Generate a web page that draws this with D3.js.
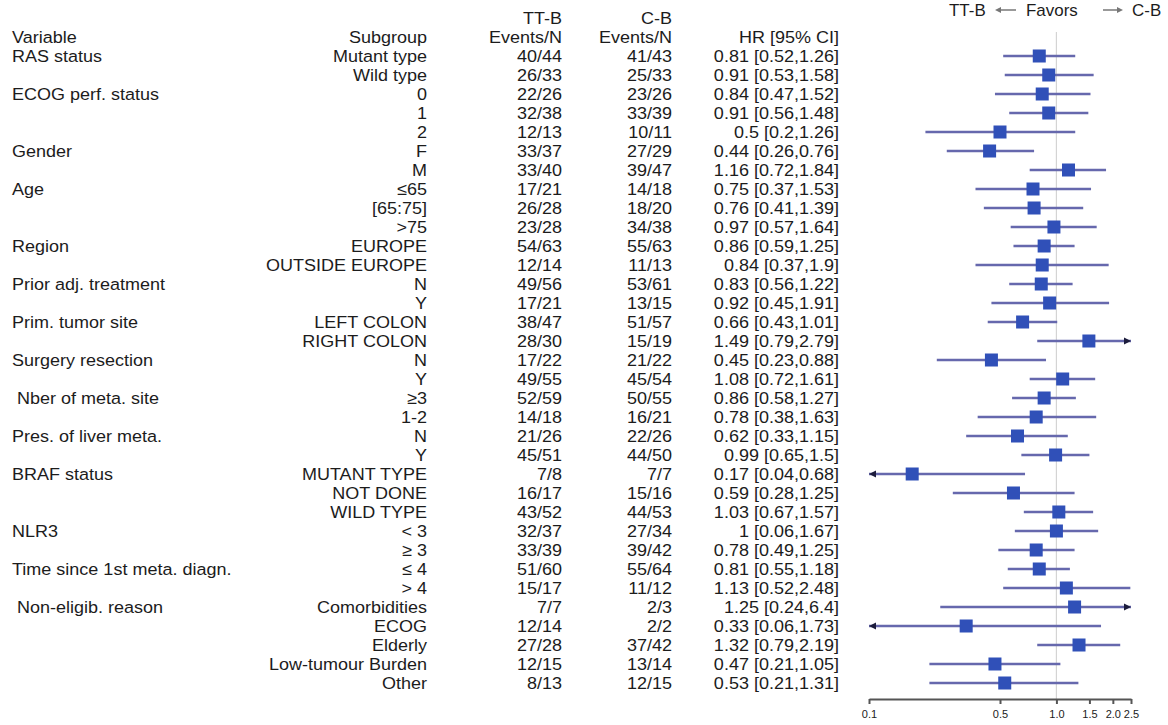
<!DOCTYPE html>
<html>
<head>
<meta charset="utf-8">
<script src="https://cdn.jsdelivr.net/npm/d3@7"></script>
<style>
  html, body { margin: 0; padding: 0; background: #fff; }
  svg { display: block; }
  text { font-family: "Liberation Sans", Arial, Helvetica, sans-serif; fill: #1c1c1c; white-space: pre; }
</style>
</head>
<body>
<svg id="chart" width="1168" height="725"></svg>
<script>
// ---- data ----
const variables = ["RAS status", "", "ECOG perf. status", "", "", "Gender", "", "Age", "", "",
  "Region", "", "Prior adj. treatment", "", "Prim. tumor site", "", "Surgery resection", "",
  " Nber of meta. site", "", "Pres. of liver meta.", "", "BRAF status", "", "", "NLR3", "",
  "Time since 1st meta. diagn.", "", " Non-eligib. reason", "", "", "", ""];
const subgroups = ["Mutant type", "Wild type", "0", "1", "2", "F", "M", "\u226465", "[65:75]", ">75",
  "EUROPE", "OUTSIDE EUROPE", "N", "Y", "LEFT COLON", "RIGHT COLON", "N", "Y",
  "\u22653", "1-2", "N", "Y", "MUTANT TYPE", "NOT DONE", "WILD TYPE", "< 3", "\u2265 3",
  "\u2264 4", "> 4", "Comorbidities", "ECOG", "Elderly", "Low-tumour Burden", "Other"];
const ttbEvents = ["40/44", "26/33", "22/26", "32/38", "12/13", "33/37", "33/40", "17/21", "26/28", "23/28",
  "54/63", "12/14", "49/56", "17/21", "38/47", "28/30", "17/22", "49/55", "52/59", "14/18",
  "21/26", "45/51", "7/8", "16/17", "43/52", "32/37", "33/39", "51/60", "15/17", "7/7",
  "12/14", "27/28", "12/15", "8/13"];
const cbEvents = ["41/43", "25/33", "23/26", "33/39", "10/11", "27/29", "39/47", "14/18", "18/20", "34/38",
  "55/63", "11/13", "53/61", "13/15", "51/57", "15/19", "21/22", "45/54", "50/55", "16/21",
  "22/26", "44/50", "7/7", "15/16", "44/53", "27/34", "39/42", "55/64", "11/12", "2/3",
  "2/2", "37/42", "13/14", "12/15"];
const hrLabels = ["0.81 [0.52,1.26]", "0.91 [0.53,1.58]", "0.84 [0.47,1.52]", "0.91 [0.56,1.48]", "0.5 [0.2,1.26]",
  "0.44 [0.26,0.76]", "1.16 [0.72,1.84]", "0.75 [0.37,1.53]", "0.76 [0.41,1.39]", "0.97 [0.57,1.64]",
  "0.86 [0.59,1.25]", "0.84 [0.37,1.9]", "0.83 [0.56,1.22]", "0.92 [0.45,1.91]", "0.66 [0.43,1.01]",
  "1.49 [0.79,2.79]", "0.45 [0.23,0.88]", "1.08 [0.72,1.61]", "0.86 [0.58,1.27]", "0.78 [0.38,1.63]",
  "0.62 [0.33,1.15]", "0.99 [0.65,1.5]", "0.17 [0.04,0.68]", "0.59 [0.28,1.25]", "1.03 [0.67,1.57]",
  "1 [0.06,1.67]", "0.78 [0.49,1.25]", "0.81 [0.55,1.18]", "1.13 [0.52,2.48]", "1.25 [0.24,6.4]",
  "0.33 [0.06,1.73]", "1.32 [0.79,2.19]", "0.47 [0.21,1.05]", "0.53 [0.21,1.31]"];
const hr = [0.81, 0.91, 0.84, 0.91, 0.5, 0.44, 1.16, 0.75, 0.76, 0.97, 0.86, 0.84, 0.83, 0.92, 0.66,
  1.49, 0.45, 1.08, 0.86, 0.78, 0.62, 0.99, 0.17, 0.59, 1.03, 1, 0.78, 0.81, 1.13, 1.25,
  0.33, 1.32, 0.47, 0.53];
const ciLow = [0.52, 0.53, 0.47, 0.56, 0.2, 0.26, 0.72, 0.37, 0.41, 0.57, 0.59, 0.37, 0.56, 0.45, 0.43,
  0.79, 0.23, 0.72, 0.58, 0.38, 0.33, 0.65, 0.04, 0.28, 0.67, 0.6, 0.49, 0.55, 0.52, 0.24,
  0.06, 0.79, 0.21, 0.21];
const ciHigh = [1.26, 1.58, 1.52, 1.48, 1.26, 0.76, 1.84, 1.53, 1.39, 1.64, 1.25, 1.9, 1.22, 1.91, 1.01,
  2.79, 0.88, 1.61, 1.27, 1.63, 1.15, 1.5, 0.68, 1.25, 1.57, 1.67, 1.25, 1.18, 2.48, 6.4,
  1.73, 2.19, 1.05, 1.31];
const tickValues = [0.1, 0.5, 1, 1.5, 2, 2.5];
const tickLabels = ["0.1", "0.5", "1.0", "1.5", "2.0", "2.5"];

// ---- layout ----
const svg = d3.select("#chart");
const FS = 17, SX = 1.06;
const rows = d3.range(hr.length);
const y = d3.scalePoint().domain(rows).range([56, 683]);
const x = d3.scaleLog().domain([0.1, 2.5]).range([869, 1131]);
const step = y.step();

function label(g, tx, ty, str, anchor, size, fill) {
  return g.append("text")
    .attr("transform", `translate(${tx},${ty}) scale(${SX},1)`)
    .attr("text-anchor", anchor)
    .style("font-size", (size || FS) + "px")
    .style("fill", fill || null)
    .text(str);
}

const txt = svg.append("g");
const colX = { variable: 12, sub: 427, ttb: 562, cb: 672, hr: 839 };
// header
label(txt, colX.ttb, y(0) - 2 * step + 6, "TT-B", "end");
label(txt, colX.cb, y(0) - 2 * step + 6, "C-B", "end");
label(txt, colX.variable, y(0) - step + 6, "Variable", "start");
label(txt, colX.sub, y(0) - step + 6, "Subgroup", "end");
label(txt, colX.ttb, y(0) - step + 6, "Events/N", "end");
label(txt, colX.cb, y(0) - step + 6, "Events/N", "end");
label(txt, colX.hr, y(0) - step + 6, "HR [95% CI]", "end");

rows.forEach(i => {
  const by = y(i) + 6;
  if (variables[i]) label(txt, colX.variable, by, variables[i], "start");
  label(txt, colX.sub, by, subgroups[i], "end");
  label(txt, colX.ttb, by, ttbEvents[i], "end");
  label(txt, colX.cb, by, cbEvents[i], "end");
  label(txt, colX.hr, by, hrLabels[i], "end");
});

// reference line at HR = 1
svg.append("line")
  .attr("x1", x(1)).attr("x2", x(1))
  .attr("y1", 32).attr("y2", 699)
  .attr("stroke", "#d4d4d4").attr("stroke-width", 1.2);

// CI lines and boxes
const [xmin, xmax] = x.domain();
const plot = svg.append("g");
rows.forEach(i => {
  const yy = y(i);
  const lo = Math.max(ciLow[i], xmin), hi = Math.min(ciHigh[i], xmax);
  plot.append("line")
    .attr("x1", x(lo)).attr("x2", x(hi))
    .attr("y1", yy).attr("y2", yy)
    .attr("stroke", "#6668ad").attr("stroke-width", 2.6);
  if (ciLow[i] < xmin) {
    const ax = x(xmin);
    plot.append("path").attr("d", `M${ax},${yy} l7,-3.5 l0,7 z`).attr("fill", "#1c1c3c");
  }
  if (ciHigh[i] > xmax) {
    const ax = x(xmax);
    plot.append("path").attr("d", `M${ax},${yy} l-7,-3.5 l0,7 z`).attr("fill", "#1c1c3c");
  }
  const s = 13;
  plot.append("rect")
    .attr("x", x(hr[i]) - s / 2).attr("y", yy - s / 2)
    .attr("width", s).attr("height", s)
    .attr("fill", "#3050b8");
});

// axis
const axis = d3.axisBottom(x)
  .tickValues(tickValues)
  .tickFormat((d, i) => tickLabels[i])
  .tickSize(5).tickSizeOuter(0).tickPadding(6);
const ag = svg.append("g").attr("transform", "translate(0,699)").call(axis);
ag.select(".domain").attr("stroke", "#555").attr("stroke-width", 2);
ag.selectAll(".tick line").attr("stroke", "#555").attr("stroke-width", 2);
ag.selectAll(".tick text")
  .style("font-family", "'Liberation Sans', Arial, sans-serif")
  .style("font-size", "11px").attr("fill", "#222");

// legend "TT-B <- Favors -> C-B"
const lg = svg.append("g");
const ly = 16, LFS = 16;
label(lg, 949, ly, "TT-B", "start", LFS);
label(lg, 1026, ly, "Favors", "start", LFS);
label(lg, 1132, ly, "C-B", "start", LFS);
const arrowY = 10;
lg.append("line").attr("x1", 998).attr("x2", 1016).attr("y1", arrowY).attr("y2", arrowY)
  .attr("stroke", "#777").attr("stroke-width", 1.5);
lg.append("path").attr("d", `M995,${arrowY} l6,-3 l0,6 z`).attr("fill", "#777");
lg.append("line").attr("x1", 1103).attr("x2", 1120).attr("y1", arrowY).attr("y2", arrowY)
  .attr("stroke", "#777").attr("stroke-width", 1.5);
lg.append("path").attr("d", `M1123,${arrowY} l-6,-3 l0,6 z`).attr("fill", "#777");
</script>
</body>
</html>
